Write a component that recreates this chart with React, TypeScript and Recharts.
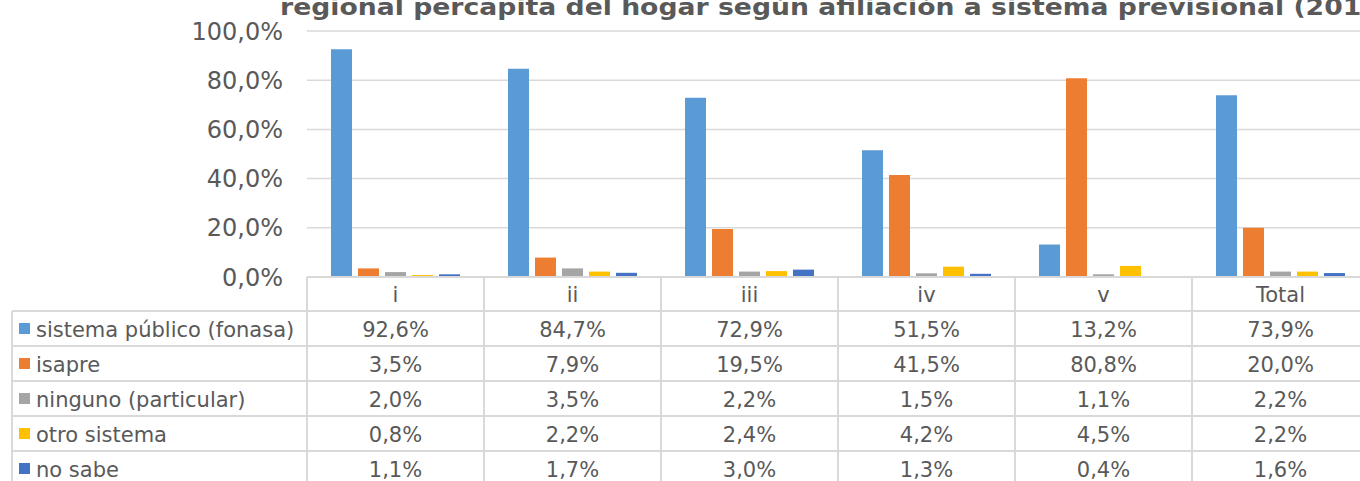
import React from "react";
import { BarChart, Bar, XAxis, YAxis, CartesianGrid } from "recharts";

const CATEGORIES = ["i", "ii", "iii", "iv", "v", "Total"];
const SERIES = [
  "sistema público (fonasa)",
  "isapre",
  "ninguno (particular)",
  "otro sistema",
  "no sabe",
];
const COLORS = ["#5B9BD5", "#ED7D31", "#A5A5A5", "#FFC000", "#4472C4"];

const fonasa = [92.6, 84.7, 72.9, 51.5, 13.2, 73.9];
const isapre = [3.5, 7.9, 19.5, 41.5, 80.8, 20.0];
const ninguno = [2.0, 3.5, 2.2, 1.5, 1.1, 2.2];
const otro = [0.8, 2.2, 2.4, 4.2, 4.5, 2.2];
const noSabe = [1.1, 1.7, 3.0, 1.3, 0.4, 1.6];

const VALUES = [fonasa, isapre, ninguno, otro, noSabe];
const Y_TICKS = [0, 20, 40, 60, 80, 100];
const TITLE = "regional percapita del hogar según afiliación a sistema previsional (2015)";

const data = CATEGORIES.map((cat, i) => {
  const row: Record<string, string | number> = { cat };
  SERIES.forEach((s, k) => {
    row["s" + k] = VALUES[k][i];
  });
  return row;
});

const fmt = (v: number) => v.toFixed(1).replace(".", ",") + "%";

const TEXT = "#595959";
const LINE = "#D9D9D9";
const FONT = "DejaVu Sans, Verdana, sans-serif";
const HEADER_H = 34;
const ROW_H = 35;
const COL_W = 177;
const LEFT_X = 12;

function TableTick(props: any) {
  const { x, y, payload, index } = props;
  const half = payload && payload.offset ? payload.offset : COL_W / 2;
  const x0 = x - half;
  const x1 = x + half;
  const bottom = y + HEADER_H + ROW_H * SERIES.length;
  const rowsTop = y + HEADER_H;
  return (
    <g fontFamily={FONT} fontSize={21} fill={TEXT}>
      {index === 0 && (
        <g>
          <line x1={LEFT_X} y1={rowsTop} x2={x0} y2={rowsTop} stroke={LINE} strokeWidth={2} />
          <line x1={LEFT_X} y1={rowsTop} x2={LEFT_X} y2={bottom} stroke={LINE} strokeWidth={2} />
          {SERIES.map((s, k) => (
            <g key={s}>
              <line
                x1={LEFT_X}
                y1={rowsTop + ROW_H * (k + 1)}
                x2={x0}
                y2={rowsTop + ROW_H * (k + 1)}
                stroke={LINE}
                strokeWidth={2}
              />
              <rect x={LEFT_X + 7} y={rowsTop + ROW_H * k + ROW_H / 2 - 5.5} width={11} height={11} fill={COLORS[k]} />
              <text x={LEFT_X + 24} y={rowsTop + ROW_H * k + ROW_H / 2 + 8} fill={TEXT}>
                {s}
              </text>
            </g>
          ))}
          <line x1={x0} y1={y} x2={x0} y2={bottom} stroke={LINE} strokeWidth={2} />
        </g>
      )}
      <line x1={x0} y1={y} x2={x1} y2={y} stroke={LINE} strokeWidth={2} />
      <line x1={x1} y1={y} x2={x1} y2={bottom} stroke={LINE} strokeWidth={2} />
      <text x={x} y={y + HEADER_H / 2 + 8} textAnchor="middle" fill={TEXT}>
        {payload.value}
      </text>
      {SERIES.map((s, k) => (
        <g key={s}>
          <line
            x1={x0}
            y1={rowsTop + ROW_H * k}
            x2={x1}
            y2={rowsTop + ROW_H * k}
            stroke={LINE}
            strokeWidth={2}
          />
          <text x={x} y={rowsTop + ROW_H * k + ROW_H / 2 + 8} textAnchor="middle" fill={TEXT}>
            {fmt(VALUES[k][index])}
          </text>
        </g>
      ))}
    </g>
  );
}

export default function App() {
  return (
    <div
      style={{
        position: "fixed",
        left: 0,
        top: 0,
        width: 1360,
        height: 481,
        overflow: "hidden",
        background: "#fff",
      }}
    >
      <BarChart
        width={1372}
        height={481}
        data={data}
        margin={{ top: 31, right: 3, left: 0, bottom: 0 }}
        barGap={6}
        barCategoryGap={0}
      >
        <CartesianGrid vertical={false} stroke={LINE} strokeWidth={1.5} />
        <XAxis
          dataKey="cat"
          height={204}
          axisLine={false}
          tickLine={false}
          tickSize={0}
          tickMargin={0}
          interval={0}
          tick={<TableTick />}
        />
        <YAxis
          width={307}
          domain={[0, 100]}
          ticks={Y_TICKS}
          tickFormatter={fmt}
          axisLine={false}
          tickLine={false}
          tickSize={0}
          tickMargin={24}
          tick={{ fill: TEXT, fontSize: 24, fontFamily: FONT }}
        />
        {SERIES.map((s, k) => (
          <Bar
            key={s}
            dataKey={"s" + k}
            name={s}
            fill={COLORS[k]}
            barSize={21}
            isAnimationActive={false}
          />
        ))}
      </BarChart>
      <svg
        width={1360}
        height={30}
        style={{ position: "absolute", left: 0, top: 0 }}
      >
        <text
          x={0}
          y={0}
          transform="translate(280 14.5) scale(1.27 1.08)"
          fontFamily={FONT}
          fontWeight="bold"
          fontSize={21}
          fill={TEXT}
        >
          {TITLE}
        </text>
      </svg>
    </div>
  );
}
